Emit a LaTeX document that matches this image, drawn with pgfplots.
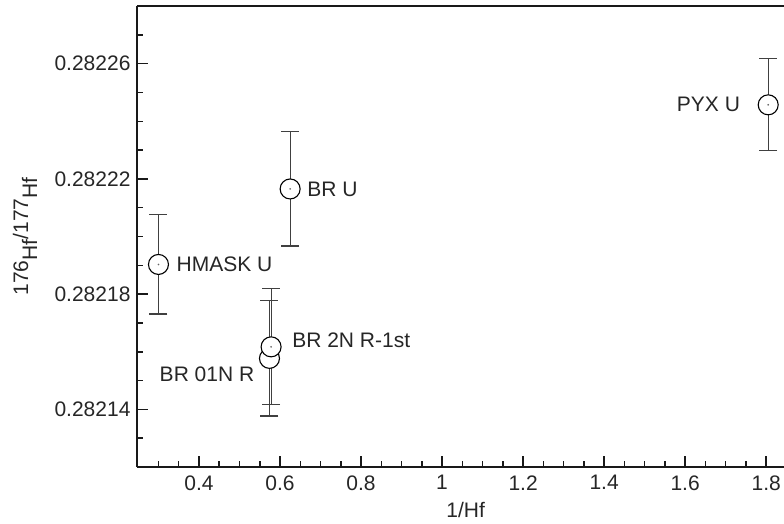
\documentclass[border=0pt]{standalone}
\usepackage{fontspec}
\setmainfont{Liberation Sans}
\usepackage{pgfplots}
\pgfplotsset{compat=1.18}
\usetikzlibrary{calc}

\newcommand{\lblfont}{\fontsize{21}{25}\selectfont}

\begin{document}
\begin{tikzpicture}
  \begin{axis}[
    scale only axis,
    width=647pt, height=461pt,
    xmin=0.247, xmax=1.844,
    ymin=0.28212, ymax=0.28228,
    axis lines=left,
    axis line style={-, line width=2pt, black!90},
    tick align=inside,
    tick style={line width=1.5pt, black!90},
    major tick length=11pt,
    minor tick length=6pt,
    xtick={0.4,0.6,0.8,1,1.2,1.4,1.6,1.8},
    minor xtick={0.3,0.35,0.45,0.5,0.55,0.65,0.7,0.75,0.85,0.9,0.95,1.05,1.1,1.15,1.25,1.3,1.35,1.45,1.5,1.55,1.65,1.7,1.75},
    ytick={0.28214,0.28218,0.28222,0.28226},
    minor ytick={0.28213,0.28215,0.28216,0.28217,0.28219,0.2822,0.28221,0.28223,0.28224,0.28225,0.28227},
    scaled y ticks=false,
    yticklabel style={/pgf/number format/fixed, /pgf/number format/precision=5, xshift=-3pt},
    xticklabel style={yshift=-5pt},
    ticklabel style={font=\lblfont, text=black!85},
    /pgf/number format/assume math mode=true,
    xlabel={1/Hf},
    ylabel={176\raisebox{-9pt}{Hf}/177\raisebox{-9pt}{Hf}},
    label style={font=\lblfont, text=black!85},
    xlabel style={at={(axis description cs:0.508,-0.093)}, anchor=center},
    ylabel style={at={(axis description cs:-0.173,0.5)}, anchor=center},
    clip=false,
  ]
    % data with 1-sigma error bars; 01N drawn before 2N so 2N sits on top
    \addplot[only marks, mark=*, mark size=10pt,
             mark options={fill=white, draw=black, line width=1.1pt},
             error bars/.cd, y dir=both, y explicit,
             error bar style={line width=1.1pt, black!75},
             error mark options={rotate=90, mark size=9pt, line width=1.1pt, black!75}]
      table[x=x, y=y, y error=e] {
        x      y          e
        0.300  0.2821903  0.0000172
        0.625  0.2822165  0.0000198
        0.574  0.2821577  0.0000200
        0.578  0.2821617  0.0000201
        1.805  0.2822457  0.0000160
      };
    % small centre dots
    \addplot[only marks, mark=*, mark size=0.6pt, black!60]
      table {
        0.300  0.2821903
        0.625  0.2822165
        0.578  0.2821617
        1.805  0.2822457
      };

    \draw[line width=2pt, black!90] (rel axis cs:0,1) -- (rel axis cs:1,1);

    \node[anchor=west, inner sep=0pt, font=\lblfont, text=black!85, xshift=18pt]
      at (axis cs:0.300,0.2821903) {HMASK U};
    \node[anchor=west, inner sep=0pt, font=\lblfont, text=black!85, xshift=17pt]
      at (axis cs:0.625,0.2822165) {BR U};
    \node[anchor=west, inner sep=0pt, font=\lblfont, text=black!85, xshift=21pt, yshift=7pt]
      at (axis cs:0.578,0.2821617) {BR 2N R-1st};
    \node[anchor=east, inner sep=0pt, font=\lblfont, text=black!85, xshift=-15pt, yshift=-16pt]
      at (axis cs:0.574,0.2821577) {BR 01N R};
    \node[anchor=east, inner sep=0pt, font=\lblfont, text=black!85, xshift=-28pt]
      at (axis cs:1.805,0.2822457) {PYX U};

    \coordinate (o) at (rel axis cs:0,0);
    \coordinate (t) at (rel axis cs:1,1);
  \end{axis}
  \pgfresetboundingbox
  \path ($(o)+(-137pt,-56pt)$) rectangle ($(t)+(0pt,6pt)$);
\end{tikzpicture}
\end{document}
